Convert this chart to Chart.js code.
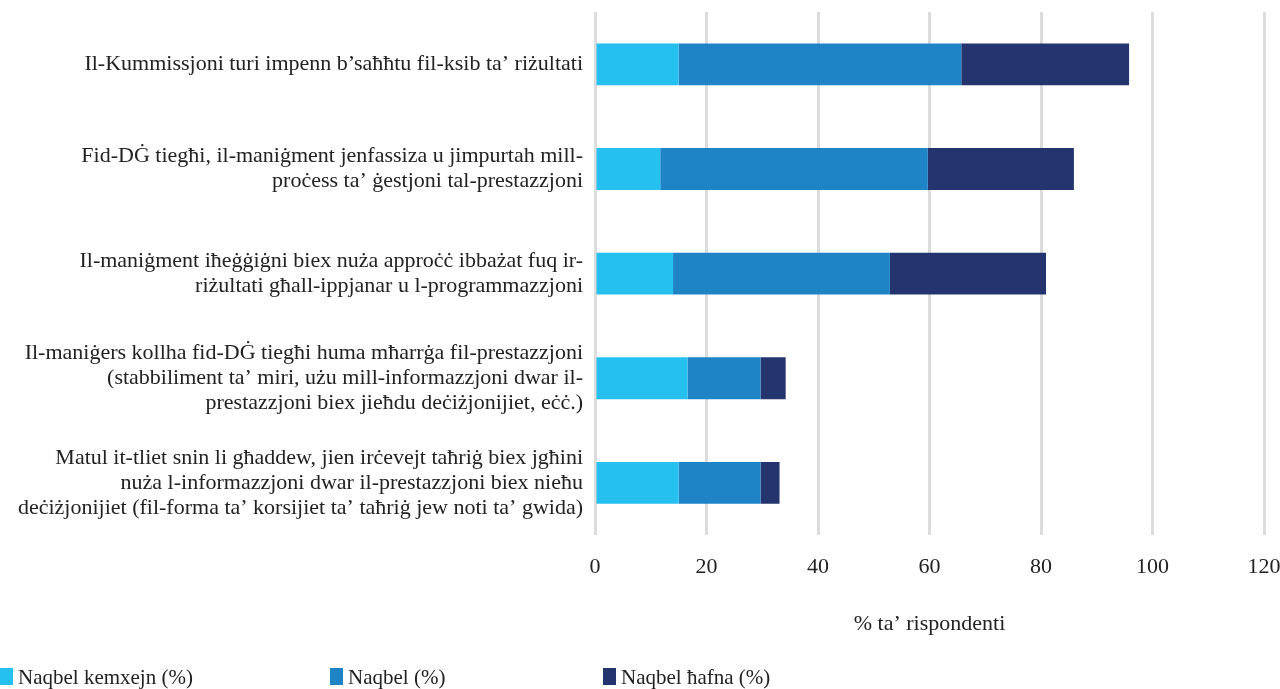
<!DOCTYPE html>
<html>
<head>
<meta charset="utf-8">
<script src="https://cdn.jsdelivr.net/npm/chart.js@4"></script>
<style>
  html, body { margin: 0; padding: 0; background: #fff; }
  #wrap { width: 1280px; height: 689px; position: relative; }
</style>
</head>
<body>
<div id="wrap"><canvas id="chart"></canvas></div>
<script>
// Statements (one per bar), split into the lines shown on the picture
const statements = [
  ['Il-Kummissjoni turi impenn b’saħħtu fil-ksib ta’ riżultati'],
  ['Fid-DĠ tiegħi, il-maniġment jenfassiza u jimpurtah mill-', 'proċess ta’ ġestjoni tal-prestazzjoni'],
  ['Il-maniġment iħeġġiġni biex nuża approċċ ibbażat fuq ir-', 'riżultati għall-ippjanar u l-programmazzjoni'],
  ['Il-maniġers kollha fid-DĠ tiegħi huma mħarrġa fil-prestazzjoni', '(stabbiliment ta’ miri, użu mill-informazzjoni dwar il-', 'prestazzjoni biex jieħdu deċiżjonijiet, eċċ.)'],
  ['Matul it-tliet snin li għaddew, jien irċevejt taħriġ biex jgħini', 'nuża l-informazzjoni dwar il-prestazzjoni biex nieħu', 'deċiżjonijiet (fil-forma ta’ korsijiet ta’ taħriġ jew noti ta’ gwida)']
];

// % of respondents
const agreeSomewhat = [15, 11.7, 14, 16.6, 15];
const agree         = [50.7, 48, 38.9, 13.1, 14.7];
const agreeStrongly = [30.1, 26.2, 28, 4.5, 3.4];

const seriesNames = ['Naqbel kemxejn (%)', 'Naqbel (%)', 'Naqbel ħafna (%)'];
const seriesColors = ['#25bff0', '#1e84c6', '#23346e'];
const xTicks = [0, 20, 40, 60, 80, 100, 120];

const FONT = '"Liberation Serif", "DejaVu Serif", serif';

// legend drawn at fixed slots along the bottom, like the original
const bottomLegend = {
  id: 'bottomLegend',
  afterDraw(chart) {
    const ctx = chart.ctx;
    const slots = [0, 330, 603];
    const y = 677;
    ctx.save();
    ctx.font = '21px ' + FONT;
    ctx.textBaseline = 'middle';
    ctx.textAlign = 'left';
    seriesNames.forEach((name, i) => {
      ctx.fillStyle = seriesColors[i];
      ctx.fillRect(slots[i], y - 9, 13, 17);
      ctx.fillStyle = '#222';
      ctx.fillText(name, slots[i] + 18, y + 1);
    });
    ctx.restore();
  }
};

new Chart(document.getElementById('chart'), {
  type: 'bar',
  data: {
    labels: statements,
    datasets: [
      { label: seriesNames[0], data: agreeSomewhat, backgroundColor: seriesColors[0] },
      { label: seriesNames[1], data: agree, backgroundColor: seriesColors[1] },
      { label: seriesNames[2], data: agreeStrongly, backgroundColor: seriesColors[2] }
    ]
  },
  options: {
    indexAxis: 'y',
    responsive: true,
    maintainAspectRatio: false,
    animation: false,
    datasets: { bar: { barPercentage: 0.4, categoryPercentage: 1.0, borderWidth: 0 } },
    layout: { padding: { top: 12, bottom: 52, right: 0, left: 0 } },
    plugins: {
      legend: { display: false },
      tooltip: { enabled: false }
    },
    scales: {
      x: {
        stacked: true,
        min: 0,
        max: 120,
        afterBuildTicks: (scale) => { scale.ticks = xTicks.map(v => ({ value: v })); },
        afterFit: (scale) => { scale.paddingLeft = 0; scale.paddingRight = 16; },
        grid: { color: '#dcdcdc', lineWidth: 3, drawTicks: false },
        border: { display: false },
        ticks: { color: '#222', padding: 19, font: { family: FONT, size: 22 } },
        title: {
          display: true,
          text: '% ta’ rispondenti',
          color: '#222',
          padding: { top: 11, bottom: 0 },
          font: { family: FONT, size: 22 }
        }
      },
      y: {
        stacked: true,
        afterFit: (scale) => { scale.width = 595; scale.paddingTop = 0; scale.paddingBottom = 0; },
        grid: { display: false, drawTicks: false },
        border: { display: false },
        ticks: {
          color: '#222',
          padding: 12,
          autoSkip: false,
          font: { family: FONT, size: 22, lineHeight: 1.14 }
        }
      }
    }
  },
  plugins: [bottomLegend]
});
</script>
</body>
</html>
